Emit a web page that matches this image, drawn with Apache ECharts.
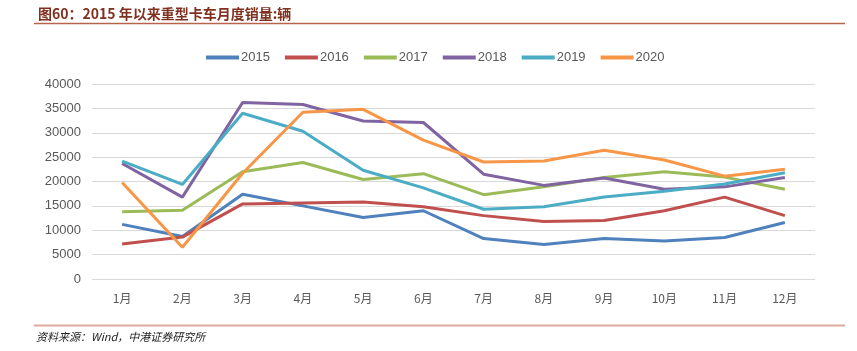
<!DOCTYPE html>
<html>
<head>
<meta charset="utf-8">
<script src="https://cdn.jsdelivr.net/npm/echarts@6/dist/echarts.min.js"></script>
<style>
html,body{margin:0;padding:0;background:#fff;}
#c{width:857px;height:351px;}
</style>
</head>
<body>
<div id="c"></div>
<script>
const months = ['1月','2月','3月','4月','5月','6月','7月','8月','9月','10月','11月','12月'];
const yTicks = [0, 5000, 10000, 15000, 20000, 25000, 30000, 35000, 40000];
const s2015 = [11200, 8700, 17400, 15000, 12600, 14000, 8300, 7100, 8300, 7800, 8500, 11600];
const s2016 = [7200, 8600, 15400, 15600, 15800, 14800, 13000, 11800, 12000, 14000, 16800, 13000];
const s2017 = [13800, 14100, 22000, 23900, 20400, 21600, 17300, 18900, 20800, 22000, 20900, 18400];
const s2018 = [23700, 16800, 36200, 35800, 32400, 32100, 21500, 19200, 20700, 18400, 18900, 20800];
const s2019 = [24200, 19400, 34000, 30300, 22300, 18700, 14300, 14800, 16800, 18000, 19500, 21800];
const s2020 = [19800, 6500, 21700, 34200, 34800, 28500, 24000, 24200, 26400, 24400, 21100, 22500];
const seriesNames = ['2015','2016','2017','2018','2019','2020'];
const seriesData = [s2015, s2016, s2017, s2018, s2019, s2020];
const colors = ['#4F81BD','#C0504D','#9BBB59','#8064A2','#4BACC6','#F79646'];

const chart = echarts.init(document.getElementById('c'), null, {renderer:'canvas'});
chart.setOption({
  animation:false,
  color: colors,
  textStyle:{fontFamily:'"Noto Sans CJK SC", Arial, sans-serif'},
  title:{
    text:'图60：2015 年以来重型卡车月度销量:辆',
    left:33, top:2,
    textStyle:{fontSize:14, fontWeight:'bold', color:'#80301f', fontFamily:'"Noto Sans CJK SC", sans-serif'}
  },
  graphic:[
    {type:'line', shape:{x1:34,y1:23.5,x2:845,y2:23.5}, style:{stroke:'#b8634c', lineWidth:1.5}},
    {type:'line', shape:{x1:34,y1:325.5,x2:845,y2:325.5}, style:{stroke:'#dcab9c', lineWidth:2}},
    {type:'text', left:36, top:331, style:{text:'资料来源：Wind，中港证券研究所', fill:'#222', font:'italic 11px "Noto Sans CJK SC", Arial, sans-serif'}}
  ],
  legend:{
    top:46, left:201,
    itemWidth:33, itemHeight:4, itemGap:15,
    icon:'rect',
    textStyle:{fontSize:13, color:'#595959', fontFamily:'Arial, "Liberation Sans", sans-serif', padding:[0,0,0,-3]},
    data: seriesNames
  },
  grid:{left:92, right:42, top:84, bottom:72},
  xAxis:{
    type:'category', data:months, boundaryGap:true,
    axisLine:{show:false}, axisTick:{show:false},
    axisLabel:{color:'#595959', fontSize:12, margin:13}
  },
  yAxis:{
    type:'value', min:yTicks[0], max:yTicks[yTicks.length-1], interval:yTicks[1]-yTicks[0],
    axisLine:{show:false}, axisTick:{show:false},
    axisLabel:{color:'#595959', fontSize:13, margin:11, fontFamily:'Arial, "Liberation Sans", sans-serif', formatter:v=>String(v)},
    splitLine:{lineStyle:{color:'#d9d9d9', width:1}}
  },
  series: seriesNames.map((n,i)=>({
    name:n, type:'line', data:seriesData[i], symbol:'none',
    lineStyle:{width:3, color:colors[i]}, itemStyle:{color:colors[i]}
  }))
});
</script>
</body>
</html>
